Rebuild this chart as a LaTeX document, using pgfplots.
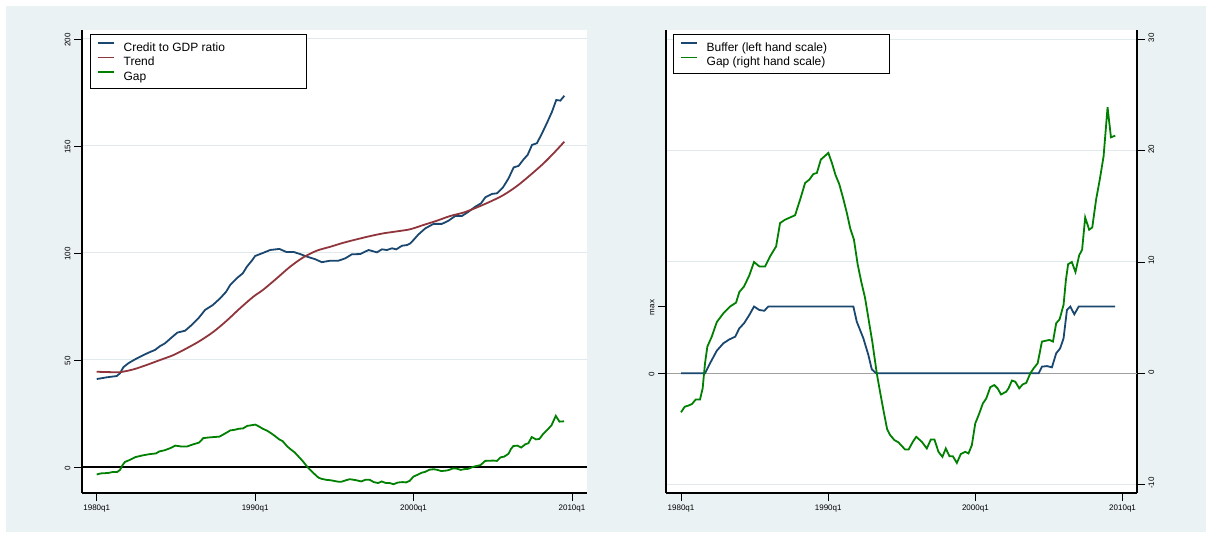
\documentclass[border=0pt]{standalone}
\usepackage{fontspec}
\setmainfont{Liberation Sans}
\usepackage{pgfplots}
\pgfplotsset{compat=1.18}
\usepackage{pgfplotstable}

\definecolor{bgblue}{RGB}{234,242,243}
\definecolor{stnavy}{RGB}{26,71,111}
\definecolor{stmaroon}{RGB}{144,53,59}
\definecolor{stgreen}{RGB}{0,128,0}
\definecolor{gridc}{RGB}{224,234,237}
\definecolor{zerogray}{RGB}{160,160,160}

\pgfplotstableread{
t v
1980.00 41.1
1980.63 41.9
1981.26 42.5
1981.47 43.8
1981.68 46.6
1982.00 48.5
1982.42 50.3
1982.84 51.9
1983.26 53.4
1983.68 54.7
1984.00 56.5
1984.31 57.8
1984.74 60.6
1985.09 62.8
1985.58 63.7
1986.00 66.4
1986.42 69.5
1986.84 73.4
1987.33 75.7
1987.79 78.8
1988.17 81.9
1988.42 85.0
1988.84 88.2
1989.22 90.5
1989.48 93.6
1989.80 96.5
1990.00 98.6
1990.52 100.1
1990.95 101.4
1991.53 101.9
1991.96 100.5
1992.42 100.5
1992.84 99.5
1993.27 98.3
1993.79 97.1
1994.21 95.7
1994.74 96.4
1995.26 96.4
1995.69 97.5
1996.11 99.4
1996.63 99.5
1997.16 101.4
1997.69 100.3
1998.00 101.7
1998.32 101.4
1998.64 102.2
1998.91 101.7
1999.27 103.4
1999.58 103.7
1999.80 104.5
2000.00 106.1
2000.30 108.6
2000.74 111.5
2001.26 113.6
2001.79 113.6
2002.21 115.1
2002.63 117.3
2003.06 117.3
2003.47 119.3
2003.89 121.6
2004.26 123.2
2004.53 126.0
2004.95 127.6
2005.27 127.9
2005.65 130.7
2006.00 134.9
2006.32 140.0
2006.63 140.7
2006.95 143.8
2007.20 145.8
2007.48 150.5
2007.79 151.3
2008.11 155.9
2008.43 160.9
2008.74 166.0
2009.01 171.5
2009.27 171.2
2009.52 173.5
}\credit

\pgfplotstableread{
t v
1980.00 44.5
1981.00 44.3
1981.47 44.3
1982.31 45.6
1983.16 47.7
1984.00 50.0
1984.84 52.3
1985.69 55.5
1986.53 59.0
1987.37 63.2
1988.21 68.4
1989.05 74.2
1989.89 79.6
1990.52 82.9
1991.37 88.2
1992.21 93.6
1993.05 98.0
1993.90 101.1
1994.74 102.9
1995.58 104.8
1996.42 106.4
1997.26 107.9
1998.11 109.2
1998.95 110.1
1999.79 111.1
2000.63 113.1
2001.48 115.1
2002.32 117.3
2003.16 118.9
2004.00 121.3
2004.84 124.0
2005.68 127.1
2006.53 131.3
2007.37 136.4
2008.21 141.9
2008.84 146.6
2009.52 152.0
}\trend

\pgfplotstableread{
t v
1980.00 -3.5
1980.25 -3.0
1980.50 -2.9
1980.75 -2.75
1981.00 -2.35
1981.29 -2.35
1981.47 -1.35
1981.63 0.9
1981.79 2.4
1982.09 3.3
1982.43 4.6
1982.88 5.4
1983.33 6.0
1983.74 6.35
1983.96 7.3
1984.28 7.8
1984.64 8.8
1984.96 10.0
1985.32 9.6
1985.71 9.6
1986.05 10.5
1986.46 11.4
1986.73 13.5
1987.07 13.8
1987.41 14.0
1987.75 14.2
1988.09 15.6
1988.43 17.1
1988.72 17.4
1988.99 17.9
1989.23 18.0
1989.50 19.2
1990.01 19.8
1990.25 18.9
1990.50 17.8
1990.75 17.0
1991.00 15.8
1991.25 14.5
1991.50 13.0
1991.75 12.0
1992.00 9.8
1992.25 8.2
1992.50 6.8
1992.75 4.8
1993.00 2.8
1993.30 0.0
1993.50 -1.5
1993.75 -3.3
1994.00 -5.0
1994.21 -5.55
1994.50 -6.0
1994.77 -6.2
1995.23 -6.85
1995.46 -6.85
1995.75 -6.15
1995.98 -5.7
1996.36 -6.15
1996.70 -6.75
1996.97 -5.95
1997.22 -5.95
1997.49 -7.05
1997.76 -7.5
1997.99 -6.75
1998.24 -7.45
1998.47 -7.45
1998.74 -8.05
1999.01 -7.25
1999.31 -7.05
1999.53 -7.2
1999.76 -6.45
1999.99 -4.5
2000.22 -3.75
2000.51 -2.7
2000.74 -2.25
2001.01 -1.25
2001.28 -1.05
2001.51 -1.35
2001.74 -1.9
2002.09 -1.65
2002.25 -1.35
2002.48 -0.65
2002.71 -0.75
2002.98 -1.35
2003.21 -1.0
2003.46 -0.85
2003.73 0.0
2003.96 0.45
2004.23 0.9
2004.52 2.85
2004.86 2.95
2005.04 3.0
2005.27 2.85
2005.49 4.5
2005.72 4.85
2005.99 6.15
2006.15 8.4
2006.30 9.8
2006.55 10.0
2006.80 9.1
2007.05 10.6
2007.25 11.1
2007.46 14.0
2007.73 12.9
2007.94 13.1
2008.20 15.6
2008.45 17.4
2008.71 19.5
2008.98 23.9
2009.21 21.2
2009.50 21.35
}\gap

\pgfplotstableread{
t v
1980.00 0
1981.63 0
1981.97 0.9
1982.43 2.03
1982.88 2.7
1983.29 3.05
1983.68 3.29
1983.96 4.04
1984.28 4.49
1984.64 5.24
1984.96 6.0
1985.32 5.69
1985.66 5.62
1985.93 6.0
1991.71 6.0
1991.94 4.64
1992.39 3.14
1992.73 1.64
1992.96 0.36
1993.26 0
2004.30 0
2004.52 0.6
2004.86 0.65
2005.20 0.54
2005.49 1.8
2005.76 2.25
2005.99 3.14
2006.22 5.69
2006.45 6.0
2006.72 5.3
2007.02 6.0
2009.50 6.0
}\buffer

\pgfplotsset{
  stata/.style={
    scale only axis,
    height=463pt,
    axis x line*=bottom,
    axis line style={black, line width=1.1pt},
    tick align=outside,
    major tick length=8pt,
    tick style={black, line width=0.9pt},
    xtick={1980,1990,2000,2010},
    xticklabels={1980q1,1990q1,2000q1,2010q1},
    ticklabel style={font=\fontsize{8}{9}\selectfont},
    /pgf/number format/assume math mode=true,
    grid style={gridc, line width=1pt},
    clip=false,
    legend cell align=left,
  },
  stlegend/.style={
    legend style={at={(#1)}, anchor=north west, draw=black, line width=0.8pt,
      fill=white, font=\fontsize{12}{14}\selectfont,
      inner xsep=7pt, inner ysep=6.5pt, row sep=2.5pt, column sep=9pt,
      cells={anchor=west},
      nodes={inner sep=0pt, text height=10.5pt, text depth=1.5pt}},
  },
}

\begin{document}
\begin{tikzpicture}
\fill[white] (0pt,0pt) rectangle (1212pt,538pt);
\fill[bgblue] (6pt,6pt) rectangle (1206pt,532pt);

% ---------------- left panel ----------------
\begin{axis}[stata, stlegend={0.0158,0.9914},
  legend image code/.code={\draw[#1] (0pt,4pt) -- (16pt,4pt);},
  at={(82pt,45pt)}, anchor=south west,
  width=505pt,
  axis background/.style={fill=white},
  axis y line*=left,
  xmin=1979.07, xmax=2010.95,
  ymin=-12.15, ymax=204.2,
  ytick={0,50,100,150,200},
  ymajorgrids,
  yticklabel style={rotate=90, anchor=south, xshift=-1pt},
]
\addlegendimage{draw=stnavy, line width=1.25pt}
\addlegendentry{\makebox[176pt][l]{Credit to GDP ratio}}
\addlegendimage{draw=stmaroon, line width=1.25pt}
\addlegendentry{Trend}
\addlegendimage{draw=stgreen, line width=1.25pt}
\addlegendentry{Gap}
\addplot[black, line width=1.2pt, forget plot] coordinates {(1979.07,0) (2010.95,0)};
\addplot[stnavy, line width=1.8pt, forget plot] table[x=t,y=v] {\credit};
\addplot[stmaroon, line width=1.8pt, smooth, forget plot] table[x=t,y=v] {\trend};
\addplot[stgreen, line width=1.8pt, forget plot] table[x=t,y=v] {\gap};
\end{axis}

% ---------------- right panel ----------------
\begin{axis}[stata, stlegend={0.0149,0.9914},
  legend image code/.code={\draw[#1] (0pt,4pt) -- (16pt,4pt);},
  at={(666pt,45pt)}, anchor=south west,
  width=471pt,
  axis background/.style={fill=white},
  axis y line*=right,
  xmin=1978.98, xmax=2010.98,
  ymin=-10.75, ymax=30.84,
  ytick={-10,0,10,20,30},
  ymajorgrids,
  yticklabel style={rotate=90, anchor=north, xshift=1.5pt},
]
\addlegendimage{draw=stnavy, line width=1.25pt}
\addlegendentry{\makebox[176pt][l]{Buffer (left hand scale)}}
\addlegendimage{draw=stgreen, line width=1.25pt}
\addlegendentry{Gap (right hand scale)}
\addplot[zerogray, line width=1.4pt, forget plot] coordinates {(1978.98,0) (2010.98,0)};
\addplot[stnavy, line width=1.8pt, forget plot] table[x=t,y=v] {\buffer};
\addplot[stgreen, line width=1.8pt, forget plot] table[x=t,y=v] {\gap};
\end{axis}

\begin{axis}[stata,
  at={(666pt,45pt)}, anchor=south west,
  width=471pt,
  axis x line=none,
  axis y line*=left,
  xmin=1978.98, xmax=2010.98,
  ymin=-10.75, ymax=30.84,
  ytick={0,6},
  yticklabels={0,max},
  yticklabel style={rotate=90, anchor=south, xshift=-1pt},
]
\addplot[draw=none, forget plot] coordinates {(1980,0)};
\end{axis}
\end{tikzpicture}
\end{document}
